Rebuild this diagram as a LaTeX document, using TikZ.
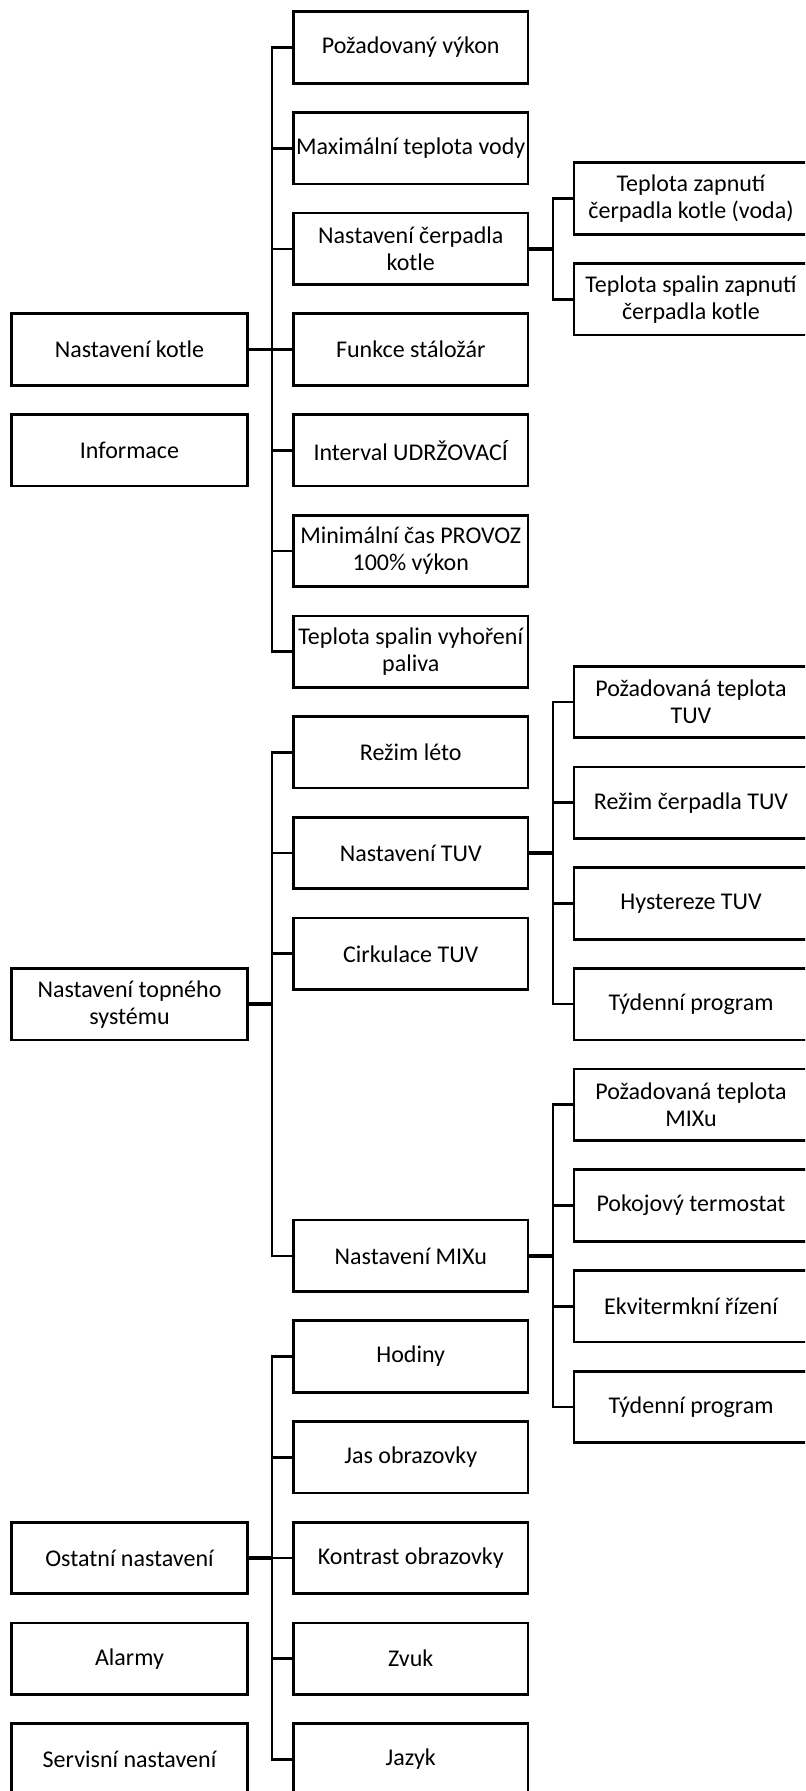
\documentclass[tikz,border=0pt]{standalone}
\usepackage{fontspec}
\setmainfont{Carlito}
\begin{document}
\begin{tikzpicture}[x=0.5pt, y=-50.35pt]
	\tikzstyle{Menu} = [rectangle, draw, line width=1.35pt, minimum width=117.25pt, minimum height=35.75pt, inner sep=0pt, align=center, font=\fontsize{12}{13.5}\selectfont]
	\tikzstyle{Top} = [Menu, minimum width=118pt]
	\tikzstyle{Sub} = [Menu, minimum width=117pt]
	\tikzstyle{Link} = [line width=1.35pt]
	\tikzstyle{Stub} = [line width=1.9pt]
	\useasboundingbox (0,-0.4717) rectangle (805,17.314);
	\clip (0,-0.4717) rectangle (805,17.314);
	% prvni uroven
	\node (kotle) at (129.5,3) [Top] {Nastavení kotle};
	\node (info) at (129.5,4) [Top] {Informace};
	\node (topsys) at (129.5,9.5) [Top] {Nastavení topného\\systému};
	\node (ostatni) at (129.5,15) [Top] {Ostatní nastavení};
	\node (alarmy) at (129.5,16) [Top] {Alarmy};
	\node (servis) at (129.5,17) [Top] {Servisní nastavení};
	% druha uroven
	\node (vykon) at (410.75,0) [Menu] {Požadovaný výkon};
	\node (maxt) at (410.75,1) [Menu] {Maximální teplota vody};
	\node (cerp) at (410.75,2) [Menu] {Nastavení čerpadla\\kotle};
	\node (stal) at (410.75,3) [Menu] {Funkce stáložár};
	\node (udrz) at (410.75,4) [Menu] {Interval UDRŽOVACÍ};
	\node (provoz) at (410.75,5) [Menu] {Minimální čas PROVOZ\\100\% výkon};
	\node (vyhor) at (410.75,6) [Menu] {Teplota spalin vyhoření\\paliva};
	\node (leto) at (410.75,7) [Menu] {Režim léto};
	\node (tuv) at (410.75,8) [Menu] {Nastavení TUV};
	\node (cirk) at (410.75,9) [Menu] {Cirkulace TUV};
	\node (mix) at (410.75,12) [Menu] {Nastavení MIXu};
	\node (hod) at (410.75,13) [Menu] {Hodiny};
	\node (jas) at (410.75,14) [Menu] {Jas obrazovky};
	\node (kontr) at (410.75,15) [Menu] {Kontrast obrazovky};
	\node (zvuk) at (410.75,16) [Menu] {Zvuk};
	\node (jazyk) at (410.75,17) [Menu] {Jazyk};
	% treti uroven
	\node (zapv) at (691,1.5) [Sub] {Teplota zapnutí\\čerpadla kotle (voda)};
	\node (zaps) at (691,2.5) [Sub] {Teplota spalin zapnutí\\čerpadla kotle};
	\node (tuvt) at (691,6.5) [Sub] {Požadovaná teplota\\TUV};
	\node (tuvc) at (691,7.5) [Sub] {Režim čerpadla TUV};
	\node (tuvh) at (691,8.5) [Sub] {Hystereze TUV};
	\node (tuvp) at (691,9.5) [Sub] {Týdenní program};
	\node (mixt) at (691,10.5) [Sub] {Požadovaná teplota\\MIXu};
	\node (mixk) at (691,11.5) [Sub] {Pokojový termostat};
	\node (mixe) at (691,12.5) [Sub] {Ekvitermkní řízení};
	\node (mixp) at (691,13.5) [Sub] {Týdenní program};
	% spojnice
	\draw[Stub] (kotle.east) -- ++(23,0) coordinate (j1);
	\draw[Stub] (topsys.east) -- ++(23,0) coordinate (j2);
	\draw[Stub] (ostatni.east) -- ++(23,0) coordinate (j3);
	\draw[Stub] (cerp.east) -- ++(23.5,0) coordinate (j4);
	\draw[Stub] (tuv.east) -- ++(23.5,0) coordinate (j5);
	\draw[Stub] (mix.east) -- ++(23.5,0) coordinate (j6);
	\foreach \c in {vykon,maxt,cerp,stal,udrz,provoz,vyhor}
		\draw[Link] (j1) |- (\c.west);
	\foreach \c in {leto,tuv,cirk,mix}
		\draw[Link] (j2) |- (\c.west);
	\foreach \c in {hod,jas,kontr,zvuk,jazyk}
		\draw[Link] (j3) |- (\c.west);
	\foreach \c in {zapv,zaps}
		\draw[Link] (j4) |- (\c.west);
	\foreach \c in {tuvt,tuvc,tuvh,tuvp}
		\draw[Link] (j5) |- (\c.west);
	\foreach \c in {mixt,mixk,mixe,mixp}
		\draw[Link] (j6) |- (\c.west);
\end{tikzpicture}
\end{document}
